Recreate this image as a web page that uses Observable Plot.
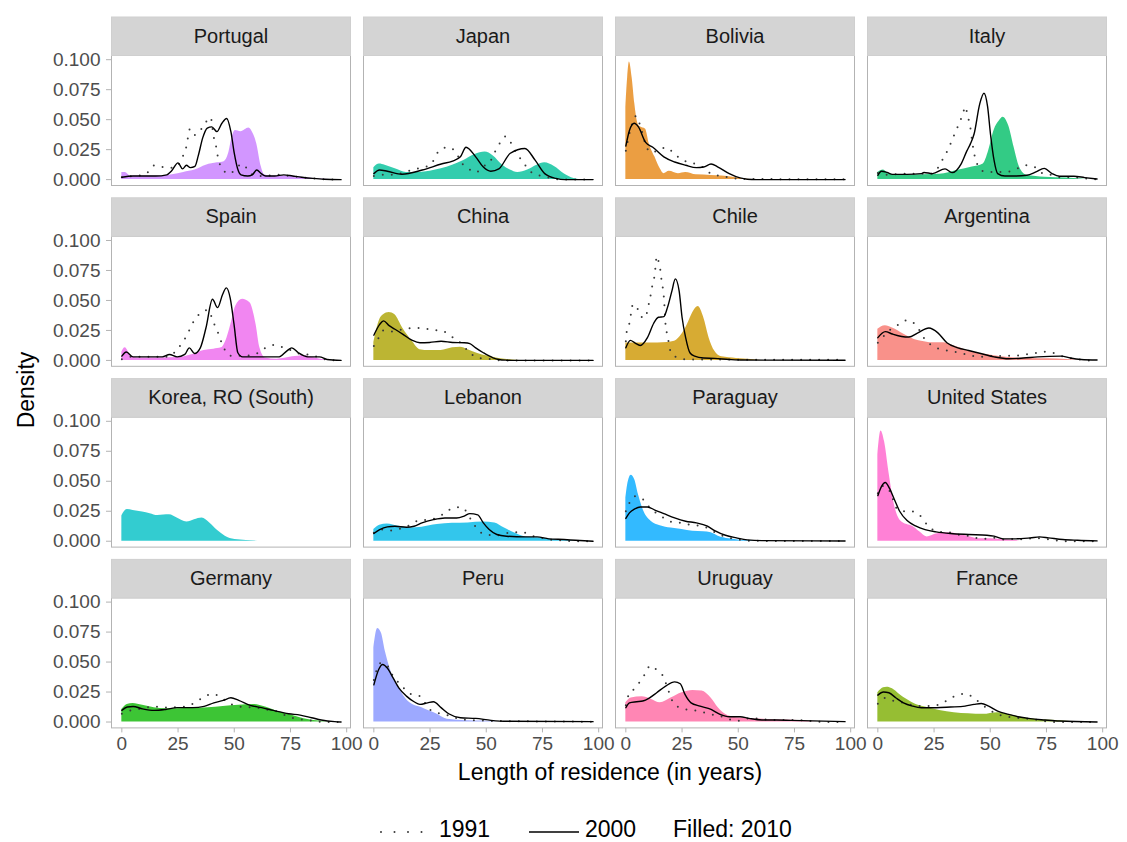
<!DOCTYPE html>
<html><head><meta charset="utf-8">
<script src="https://cdn.jsdelivr.net/npm/d3@7"></script>
<script src="https://cdn.jsdelivr.net/npm/@observablehq/plot@0.6"></script>
<style>
body{margin:0;background:#fff;}
#chart{position:relative;width:1127px;height:842px;font-family:"Liberation Sans",Arial,Helvetica,sans-serif;}
#chart svg.overlay{position:absolute;left:0;top:0;pointer-events:none;}
#chart g[aria-label="x-axis tick"] path, #chart g[aria-label="y-axis tick"] path, #chart .tick line{stroke:#b3b3b3;}
</style></head><body><div id="chart"></div>
<script>
// ---- categories (panel order) and fill colours ----
const countries = ["Portugal","Japan","Bolivia","Italy","Spain","China","Chile","Argentina","Korea, RO (South)","Lebanon","Paraguay","United States","Germany","Peru","Uruguay","France"];
const fillColors = ["#C77CFF","#00C19A","#E68613","#00BE67","#ED68ED","#ABA300","#CD9600","#F8766D","#00BFC4","#00B8E7","#00A9FF","#FF61CC","#0CB702","#8494FF","#FF68A1","#7CAE00"];
const xTicks = [0,25,50,75,100];
const yTicks = [0,0.025,0.05,0.075,0.1];
const legendLabels = ["1991","2000","Filled: 2010"];

// ---- density values: [years, density] ----
const portugal2010 = [[0,.006],[1.5,.006],[4,.003],[10,.003],[17.5,.003],[22.5,.004],[27.5,.006],[32.5,.008],[37.5,.012],[42.5,.014],[45.5,.015],[47.5,.022],[49,.035],[50.5,.041],[53,.040],[56.5,.043],[58.5,.038],[60,.030],[62,.011],[63.5,.004],[66,.003],[75,.003],[80,.002],[85,.001],[90,.0003],[95,0],[97.5,0]];
const portugal2000 = [[0,.002],[5,.003],[15,.003],[20,.004],[22,.007],[25,.014],[27,.009],[28.7,.012],[30.5,.010],[32.5,.011],[34,.020],[36,.035],[38,.043],[40,.044],[42.3,.040],[44.5,.047],[46.6,.051],[48.5,.040],[50,.022],[51.5,.009],[53,.004],[56,.003],[58,.004],[60,.008],[62,.005],[64,.003],[68,.003],[72,.004],[76,.003],[80,.002],[85,.001],[90,.0003],[97.5,0]];
const portugal1991 = [[0,.002],[5,.003],[10,.004],[12.5,.008],[14.5,.012],[17,.011],[20,.010],[23,.010],[25,.012],[27,.019],[28.5,.026],[29.3,.034],[30.2,.042],[32,.037],[34.5,.040],[37,.047],[39.5,.052],[40.8,.036],[41.8,.029],[42.5,.021],[45,.008],[48,.005],[51.5,.011],[54,.013],[56,.008],[58.5,.004],[62,.003],[70,.004],[75,.003],[80,.002],[85,.001],[90,.0003],[97.5,0]];

const japan2010 = [[0,.010],[2.5,.013],[5,.012],[9.5,.009],[14.5,.006],[20,.006],[25,.007],[30,.009],[35,.012],[40,.016],[45,.021],[49.5,.023],[53,.020],[57.3,.012],[60.7,.008],[64,.006],[68.4,.008],[72.6,.012],[76,.014],[80.3,.011],[84.6,.005],[89,.001],[93,0],[97.5,0]];
const japan2000 = [[0,.005],[2.5,.008],[6,.007],[12.5,.0045],[21.5,.008],[30,.013],[35,.0155],[38.5,.019],[41,.027],[45.3,.019],[48.7,.0105],[52,.007],[55.6,.009],[60.7,.022],[67.2,.026],[71.8,.016],[76,.005],[81,.001],[85,0],[97.5,0]];
const japan1991 = [[0,.003],[4,.004],[8.5,.004],[17,.008],[21,.010],[25,.012],[29,.024],[33,.027],[36.8,.022],[38.5,.015],[41,.011],[45.3,.006],[48.7,.011],[52,.016],[53.8,.023],[55.6,.029],[58.6,.036],[61.5,.029],[63.2,.023],[65.8,.016],[70.9,.005],[75.2,.003],[79.5,.001],[84,0],[97.5,0]];

const bolivia2010 = [[0,.060],[0.8,.085],[1.6,.098],[2.8,.085],[4,.063],[5.5,.046],[6.4,.044],[8.8,.042],[10.4,.030],[12.9,.019],[15.3,.009],[16.9,.005],[19.3,.007],[23.4,.005],[26.6,.006],[31.4,.004],[37.9,.0035],[42.7,.003],[47.5,.002],[50.8,.001],[55,.0002],[60,0],[97.5,0]];
const bolivia2000 = [[0,.028],[1.6,.041],[3.7,.047],[5.6,.044],[8.8,.031],[12,.027],[16.9,.019],[21.7,.0147],[26.6,.012],[31.4,.010],[34.6,.0105],[37.9,.013],[41,.0105],[46,.005],[50.8,.0014],[54,.0003],[58,0],[97.5,0]];
const bolivia1991 = [[0,.024],[1.8,.040],[4.5,.053],[6.4,.045],[8.5,.031],[10.8,.023],[14.5,.024],[17.7,.027],[20.9,.023],[24.1,.0175],[27.4,.0147],[31.4,.0128],[34.6,.010],[38.7,.004],[42.7,.003],[46.8,.0014],[50.8,.0008],[55,.0005],[97.5,.0003]];

const italy2010 = [[0,.006],[2.5,.008],[4.9,.005],[11.4,.0036],[20,.004],[27.5,.0044],[35.6,.0078],[42,.0105],[46.9,.013],[49.3,.024],[51.7,.041],[54.1,.049],[55.7,.052],[58.2,.045],[60.6,.027],[63,.0105],[66.3,.0036],[74.4,.002],[84,.0014],[90.4,.0006],[95,0],[97.5,0]];
const italy2000 = [[0,.0036],[1.6,.007],[4.1,.006],[6.5,.0044],[13,.0044],[19.4,.005],[20.5,.006],[24.3,.005],[29.9,.009],[33,.0058],[37,.013],[39.6,.024],[41.2,.030],[42.8,.038],[45.3,.063],[47.2,.072],[48.8,.061],[50.1,.038],[51.7,.016],[53.3,.005],[56.5,.003],[61.4,.003],[66.3,.0036],[70.3,.0064],[74,.0094],[77.5,.005],[80.8,.0028],[87.2,.0028],[92,.0017],[97.5,.0005]];
const italy1991 = [[0,.0055],[4,.004],[8,.0045],[16,.005],[24,.005],[26,.008],[27.5,.012],[29.4,.019],[31.5,.026],[33,.033],[34.8,.041],[36.4,.048],[38,.056],[38.8,.061],[40.1,.052],[41,.045],[42.1,.030],[43.8,.0147],[47,.007],[51,.0064],[55,.0064],[59,.007],[62.7,.0097],[66.3,.012],[69.8,.0105],[73.5,.005],[77,.004],[80.8,.002],[85.6,.002],[93.6,.0008],[97.5,.0003]];

const spain2010 = [[0,.007],[1.5,.0105],[4.1,.0036],[7,.002],[25,.0025],[31.5,.005],[36.6,.0083],[40.9,.0094],[44.3,.0105],[46.8,.019],[48.5,.030],[50.6,.045],[53.7,.051],[57,.048],[59.7,.030],[61.4,.0105],[63.9,.002],[69,.001],[75.9,.003],[81,.004],[86,.002],[89.6,.0006],[93,0],[97.5,0]];
const spain2000 = [[0,.0036],[2,.007],[5,.003],[18,.003],[21.2,.005],[24.6,.003],[28,.005],[30,.0105],[32.3,.0058],[34.9,.0105],[37.4,.027],[40.3,.051],[42.6,.044],[44.8,.055],[46.5,.0605],[48.2,.052],[49.9,.030],[51.6,.0064],[53.7,.003],[70,.003],[73.3,.0078],[75.6,.0105],[78.5,.0064],[82.7,.003],[87.9,.003],[91.3,.0008],[97.5,0]];
const spain1991 = [[0,.001],[4,.003],[20,.003],[24.6,.009],[26.8,.0147],[29.2,.022],[30.9,.029],[33.2,.036],[35.4,.040],[38.3,.042],[40.9,.031],[42.6,.024],[43.8,.0175],[48.2,.004],[51.9,.004],[56.2,.004],[60.2,.006],[63.9,.0105],[67.9,.013],[71.6,.011],[75.9,.008],[80.2,.005],[84.1,.005],[87.9,.002],[92,.0005],[97.5,0]];

const china2010 = [[0,.015],[2.6,.034],[4.3,.038],[6.8,.040],[9.4,.038],[12.8,.027],[17.1,.016],[20.5,.009],[24.8,.0083],[29.9,.0083],[35,.0105],[38.5,.011],[41.9,.009],[46.2,.0058],[50.4,.0036],[55.6,.0017],[60.7,.0005],[65,0],[97.5,0]];
const china2000 = [[0,.021],[2.6,.030],[4.3,.033],[6.8,.029],[9.4,.026],[12.8,.022],[17.1,.0167],[20.5,.0147],[24.8,.015],[29.9,.016],[35,.015],[40.2,.0147],[42.7,.014],[45.3,.0105],[48.7,.0064],[53,.0022],[55.6,.0008],[59,.0002],[63,0],[97.5,0]];
const china1991 = [[0,.012],[2.2,.019],[4.3,.025],[8.5,.024],[12.8,.026],[17.1,.027],[21.4,.027],[25.6,.0255],[29.6,.025],[36.4,.0175],[38.5,.0147],[42.7,.0064],[46.2,.002],[50.4,.0014],[54.7,.0003],[60,0],[97.5,0]];

const chile2010 = [[0,.0145],[10,.0145],[18.5,.015],[21.7,.016],[25,.022],[27.4,.030],[29.8,.040],[32.2,.045],[34.6,.036],[37,.019],[39.5,.0078],[42.7,.003],[49.2,.0017],[55.6,.0008],[60,0],[97.5,0]];
const chile2000 = [[0,.0105],[2,.0167],[4,.0147],[6.4,.0125],[9.6,.019],[12.4,.031],[14.5,.036],[16.9,.0365],[18.5,.044],[20.5,.058],[22,.068],[23.7,.058],[25,.036],[26.6,.019],[28.5,.0064],[30.6,.0036],[34.6,.002],[39.5,.0017],[46,.0008],[52,.0003],[97.5,.0002]];
const chile1991 = [[0,.016],[0.4,.024],[1.6,.031],[3.2,.047],[5.6,.042],[7.7,.035],[9.6,.041],[10.4,.049],[11.2,.056],[12,.065],[12.9,.072],[13.3,.081],[13.8,.087],[14.5,.083],[15.3,.076],[15.8,.068],[16.4,.061],[16.9,.053],[17.7,.029],[18.5,.021],[20.1,.0064],[23.4,.002],[27.4,.0008],[97.5,.0005]];

const argentina2010 = [[0,.026],[3.3,.029],[6.5,.027],[11.4,.022],[16.2,.0175],[19.4,.016],[24.3,.0147],[29.1,.0147],[34,.012],[38.8,.009],[43.6,.0064],[48.5,.005],[54.9,.003],[61.4,.002],[67.8,.0017],[75.9,.0014],[84,.0008],[87,.0003],[90,0],[97.5,0]];
const argentina2000 = [[0,.019],[3.3,.024],[6.5,.022],[10.6,.020],[13.8,.0195],[17.8,.023],[22.7,.027],[26.7,.023],[30.7,.0147],[35.6,.0105],[40.4,.0083],[45.3,.006],[51.7,.003],[58.2,.0014],[64.7,.002],[71.1,.003],[81.6,.0036],[85.6,.002],[90.4,.0008],[97.5,.0003]];
const argentina1991 = [[0,.0147],[2.5,.020],[5.7,.026],[9.3,.030],[13,.0336],[16.7,.030],[21,.0175],[24.3,.012],[28.3,.0092],[32.3,.0078],[36.4,.0064],[40.4,.0044],[45.3,.003],[48.5,.0036],[53.3,.0036],[57.4,.004],[61.4,.004],[65.5,.005],[69.5,.0058],[73.5,.0072],[77.6,.0064],[81.6,.0036],[85.6,.002],[89.6,.0008],[93.7,0],[97.5,0]];

const korea2010 = [[0,.021],[2.4,.0264],[5,.0256],[9.2,.0244],[12.6,.023],[16,.0214],[21.2,.022],[24.6,.0194],[28.9,.016],[32.3,.018],[35.7,.0194],[39.1,.0153],[42.6,.0089],[46,.0042],[50.3,.0014],[55.4,.0006],[62,0],[97.5,0]];

const lebanon2010 = [[0,.0097],[2.6,.0133],[6,.0144],[11.1,.0125],[16.2,.011],[21.4,.0117],[28.2,.0139],[35,.015],[41.9,.0153],[48.7,.016],[53.8,.0153],[58.1,.011],[62.4,.007],[67.5,.0036],[72.6,.0028],[79.5,.0014],[86.3,.0006],[92,0],[97.5,0]];
const lebanon2000 = [[0,.0064],[2.6,.0097],[6,.012],[9.4,.0125],[14.5,.0117],[17.9,.0125],[21.4,.0153],[26.5,.018],[31.6,.0194],[36.8,.0194],[40.2,.021],[42.7,.023],[46.2,.022],[48.7,.0153],[51.3,.0097],[54.7,.0056],[59,.0042],[67.5,.0036],[72.6,.0036],[77.8,.002],[84.6,.0014],[89.7,.0008],[97.5,0]];
const lebanon1991 = [[0,.007],[3.8,.0097],[7.7,.009],[12,.0106],[15.9,.0133],[19.7,.0172],[24,.018],[27.9,.0194],[31.6,.0236],[35.6,.028],[39,.0283],[43.9,.016],[46.5,.0089],[50.1,.0056],[54.2,.0047],[61.9,.0075],[66.2,.0075],[70.1,.0047],[74.4,.0028],[78.6,.0014],[83.8,.0006],[90,0],[97.5,0]];

const paraguay2010 = [[0,.036],[0.8,.047],[2.4,.055],[4,.051],[5.6,.039],[8,.025],[11.2,.0167],[15.3,.013],[20.1,.011],[25,.0097],[29.8,.0083],[34.6,.0078],[37.9,.007],[41.1,.0042],[46,.002],[50.8,.0008],[55.6,.0003],[60,0],[97.5,0]];
const paraguay2000 = [[0,.019],[1.6,.0236],[4,.027],[6.4,.0286],[9.6,.0286],[12.9,.026],[16.9,.023],[21.7,.0194],[26.6,.0167],[31.4,.0153],[36.3,.0125],[39.5,.0089],[44.3,.005],[49.2,.0028],[54,.0011],[60.5,.0005],[97.5,.0002]];
const paraguay1991 = [[0,.025],[1.6,.032],[4,.0375],[7.6,.035],[10.1,.029],[13.4,.0236],[16.9,.0194],[20.5,.016],[24.5,.0153],[28.2,.0139],[32.2,.013],[36.3,.011],[40,.007],[44.3,.0036],[48.4,.0019],[52.4,.0008],[58,.0003],[97.5,.0002]];

const unitedStates2010 = [[0,.072],[1.4,.092],[3,.083],[4.9,.058],[7.3,.031],[9.7,.018],[13,.0139],[15.4,.0125],[18.6,.0078],[21.9,.0036],[25.9,.006],[30.7,.007],[35.6,.006],[40.4,.004],[45.3,.002],[50.1,.002],[54.9,.0014],[60,.0008],[65,0],[97.5,0]];
const unitedStates2000 = [[0,.038],[1.7,.046],[3.3,.049],[5.2,.044],[7.3,.035],[9.7,.025],[13,.0172],[17,.0125],[21,.0097],[25.9,.0078],[32.3,.0064],[40.4,.0056],[48.5,.005],[51.7,.0042],[55.7,.002],[61.4,.002],[67.8,.0028],[71.9,.0036],[75.9,.0028],[82.3,.0014],[88.8,.0008],[97.5,.0003]];
const unitedStates1991 = [[0,.040],[2.2,.046],[4.1,.045],[6.5,.036],[8.1,.028],[10.6,.025],[14.6,.025],[18.6,.0217],[21,.0158],[24.3,.0097],[27.5,.0078],[31.5,.0075],[35.6,.0056],[39.6,.0047],[43.7,.0028],[48.5,.002],[51.7,.0028],[56.4,.0014],[61.2,.002],[65.2,.0014],[69.3,.0028],[73.4,.002],[77.4,.0014],[81.5,0],[97.5,0]];

const germany2010 = [[0,.0105],[2.4,.0147],[5,.0155],[9.2,.014],[14.4,.012],[19.5,.011],[24.6,.011],[31.5,.0114],[38.3,.012],[45.1,.013],[52,.014],[58.8,.0147],[63.9,.0125],[69,.009],[74.2,.0064],[79.3,.0036],[82.7,.0022],[87.9,.0008],[93,0],[97.5,0]];
const germany2000 = [[0,.0097],[2.4,.0125],[5,.013],[9.2,.011],[14.4,.0097],[19.5,.0105],[24.6,.012],[31.5,.012],[36.6,.013],[40.9,.016],[45.1,.018],[48.5,.0202],[52,.018],[57.1,.0139],[62.2,.012],[67.4,.0097],[74.2,.0069],[79.3,.0058],[84.4,.0036],[88.7,.0017],[94.7,.0003],[97.5,0]];
const germany1991 = [[0,.007],[4.1,.0097],[8.4,.011],[12.6,.0125],[16.6,.0127],[20.7,.0119],[24.6,.0125],[28.9,.013],[32.8,.0166],[36.6,.0208],[40.3,.0235],[44.3,.0202],[48.2,.0152],[52,.013],[55.7,.0125],[59.7,.012],[63.9,.0105],[67.4,.0097],[71.6,.0064],[75.6,.0036],[79.7,.0022],[83.6,.0014],[90,0],[97.5,0]];

const peru2010 = [[0,.062],[1.7,.078],[3.4,.074],[5.1,.059],[7.7,.042],[11.1,.0285],[14.5,.0188],[17.9,.014],[21.4,.012],[24.8,.0091],[28.2,.0064],[31.6,.003],[35.9,.0017],[41.9,.0011],[48.7,.0008],[55,0],[97.5,0]];
const peru2000 = [[0,.031],[2.2,.044],[3.9,.048],[6,.045],[8.5,.037],[11.1,.0285],[14.5,.0216],[17.9,.0169],[20.5,.0147],[23.9,.016],[26.5,.0169],[29.9,.012],[33.3,.0069],[38.5,.0036],[45.3,.003],[52.1,.0014],[59,.0006],[97.5,.0003]];
const peru1991 = [[0,.035],[2.9,.049],[6,.047],[8,.040],[12,.031],[16.2,.0235],[20.5,.0216],[24.8,.0105],[29.9,.0069],[34.2,.005],[38.5,.0022],[42.7,.0017],[47,.0014],[55,.0008],[97.5,.0003]];

const uruguay2010 = [[0,.016],[2.4,.020],[7.2,.021],[11.2,.019],[15.3,.016],[20.1,.020],[25,.0244],[29.8,.0263],[33.9,.0258],[37.9,.020],[41.1,.0119],[44.3,.0064],[49.2,.0036],[55.6,.0028],[62.1,.0022],[70.1,.0017],[78.2,.0011],[83,.0003],[87,0],[97.5,0]];
const uruguay2000 = [[0,.0119],[1.6,.016],[4.8,.0169],[7.5,.0175],[10.4,.020],[13.7,.0244],[17.7,.030],[21.7,.0335],[24.2,.0319],[26.3,.023],[29,.016],[33,.0133],[37.9,.0105],[41.9,.0064],[46,.0044],[50.8,.0044],[54.8,.003],[60.5,.0017],[67,.0017],[73.4,.0014],[97.5,.0003]];
const uruguay1991 = [[0,.014],[1.2,.0224],[3.9,.028],[6.4,.034],[8.5,.040],[10.8,.047],[14,.043],[16.9,.037],[18.5,.0285],[21.4,.0152],[24.9,.0114],[29,.010],[32.6,.0091],[37.6,.0064],[41.1,.0055],[45.2,.0028],[49.2,.0008],[53.2,.0028],[57.3,.003],[65.3,.0017],[69.3,.0017],[78.2,.0014],[82.3,.0008],[90,0],[97.5,0]];

const france2010 = [[0,.0244],[2.5,.0285],[4.1,.029],[6.5,.0277],[9.7,.023],[13,.0188],[17,.0147],[21,.0125],[27.5,.0097],[34,.0078],[40.4,.0069],[46.9,.0064],[53.3,.0078],[59,.0058],[64.7,.0036],[71.1,.0022],[77.5,.0014],[84,.0006],[90,0],[97.5,0]];
const france2000 = [[0,.0224],[2.5,.025],[4.9,.0244],[8.1,.020],[11.4,.016],[15.4,.0133],[19.4,.0119],[25.9,.0119],[32.3,.0125],[38.8,.0133],[42.8,.0147],[46,.0155],[49.3,.0133],[53.3,.0091],[58.2,.0064],[63,.0042],[67.8,.0028],[74.4,.0017],[80.8,.0008],[97.5,0]];
const france1991 = [[0,.0152],[3.3,.020],[7.3,.0175],[11.4,.016],[15.4,.014],[19.4,.0133],[23.5,.0133],[27.5,.0147],[31.5,.0188],[35.2,.0224],[39.2,.0235],[42.9,.0197],[46.2,.0147],[49.3,.0105],[53.3,.0064],[57.4,.0044],[61.4,.0036],[65.5,.0028],[69.5,.0022],[73.5,.0008],[80,0],[97.5,0]];

// ---- table built from the arrays above ----
const seriesByCountry = [
  [portugal1991, portugal2000, portugal2010],
  [japan1991, japan2000, japan2010],
  [bolivia1991, bolivia2000, bolivia2010],
  [italy1991, italy2000, italy2010],
  [spain1991, spain2000, spain2010],
  [china1991, china2000, china2010],
  [chile1991, chile2000, chile2010],
  [argentina1991, argentina2000, argentina2010],
  [null, null, korea2010],
  [lebanon1991, lebanon2000, lebanon2010],
  [paraguay1991, paraguay2000, paraguay2010],
  [unitedStates1991, unitedStates2000, unitedStates2010],
  [germany1991, germany2000, germany2010],
  [peru1991, peru2000, peru2010],
  [uruguay1991, uruguay2000, uruguay2010],
  [france1991, france2000, france2010]
];
const censusYears = [1991, 2000, 2010];
const rows = [];
countries.forEach((country, i) => {
  seriesByCountry[i].forEach((s, k) => {
    if (!s) return;
    s.forEach(([x, d]) => rows.push({country, census: censusYears[k], x, d, col: i % 4, row: Math.floor(i / 4)}));
  });
});
const labels = countries.map((country, i) => ({country, col: i % 4, row: Math.floor(i / 4)}));
const r1991 = rows.filter(r => r.census === 1991);
const r2000 = rows.filter(r => r.census === 2000);
const r2010 = rows.filter(r => r.census === 2010);

// ---- layout ----
const W = 1127, H = 842;
const panelH = 130, stripH = 38.5;
const fyPad = 50.8 / 180.8;
const mTop = 55, mBottom = H - (mTop + 180.8 * 4 - 50.8);
const fxPad = 13 / 252;

const chart = Plot.plot({
  width: W, height: H,
  marginLeft: 111, marginRight: 21, marginTop: mTop, marginBottom: mBottom,
  style: {fontSize: "19px", fontFamily: "'Liberation Sans', Arial, Helvetica, sans-serif", color: "#4d4d4d", background: "white", overflow: "visible"},
  fx: {domain: [0,1,2,3], paddingInner: fxPad, paddingOuter: 0, round: false, axis: null, label: null},
  fy: {domain: [0,1,2,3], paddingInner: fyPad, paddingOuter: 0, round: false, axis: null, label: null},
  x: {domain: [-4.6, 101.7], ticks: xTicks, tickSize: 5, tickPadding: 4, label: null},
  y: {domain: [-0.0049, 0.1035], ticks: yTicks, tickFormat: d3.format(".3f"), tickSize: 5, tickPadding: 6, label: null},
  color: {domain: countries, range: fillColors},
  marks: [
    Plot.frame({fill: "white", stroke: "#b3b3b3"}),
    Plot.frame({fill: "#d4d4d4", stroke: "#cfcfcf", insetTop: -stripH, insetBottom: panelH}),
    Plot.text(labels, {fx: "col", fy: "row", text: "country", frameAnchor: "top", lineAnchor: "middle", dy: -stripH / 2, fill: "#1a1a1a", fontSize: 20}),
    Plot.areaY(r2010, {fx: "col", fy: "row", x: "x", y: "d", z: "country", fill: "country", fillOpacity: 0.8, curve: "monotone-x"}),
    Plot.lineY(r1991, {fx: "col", fy: "row", x: "x", y: "d", z: "country", stroke: "#3a3a3a", strokeWidth: 2, strokeDasharray: "0,9", strokeLinecap: "round", curve: "monotone-x"}),
    Plot.lineY(r2000, {fx: "col", fy: "row", x: "x", y: "d", z: "country", stroke: "#000", strokeWidth: 1.4, curve: "monotone-x"})
  ]
});
document.getElementById("chart").appendChild(chart);

// ---- axis titles and legend ----
const ov = d3.select("#chart").append("svg").attr("class", "overlay").attr("width", W).attr("height", H)
  .attr("font-family", "'Liberation Sans', Arial, Helvetica, sans-serif").attr("fill", "#000");
ov.append("text").attr("x", 610).attr("y", 780).attr("text-anchor", "middle").attr("font-size", 23).text("Length of residence (in years)");
ov.append("text").attr("transform", "translate(33.5,390) rotate(-90)").attr("text-anchor", "middle").attr("font-size", 23).text("Density");
ov.append("line").attr("x1", 381).attr("x2", 435).attr("y1", 832).attr("y2", 832)
  .attr("stroke", "#3a3a3a").attr("stroke-width", 2).attr("stroke-dasharray", "0,13.5").attr("stroke-linecap", "round");
ov.append("text").attr("x", 439).attr("y", 836.5).attr("font-size", 23).text(legendLabels[0]);
ov.append("line").attr("x1", 529).attr("x2", 579).attr("y1", 832).attr("y2", 832).attr("stroke", "#000").attr("stroke-width", 1.4);
ov.append("text").attr("x", 585).attr("y", 836.5).attr("font-size", 23).text(legendLabels[1]);
ov.append("text").attr("x", 673).attr("y", 836.5).attr("font-size", 23).text(legendLabels[2]);
</script></body></html>
